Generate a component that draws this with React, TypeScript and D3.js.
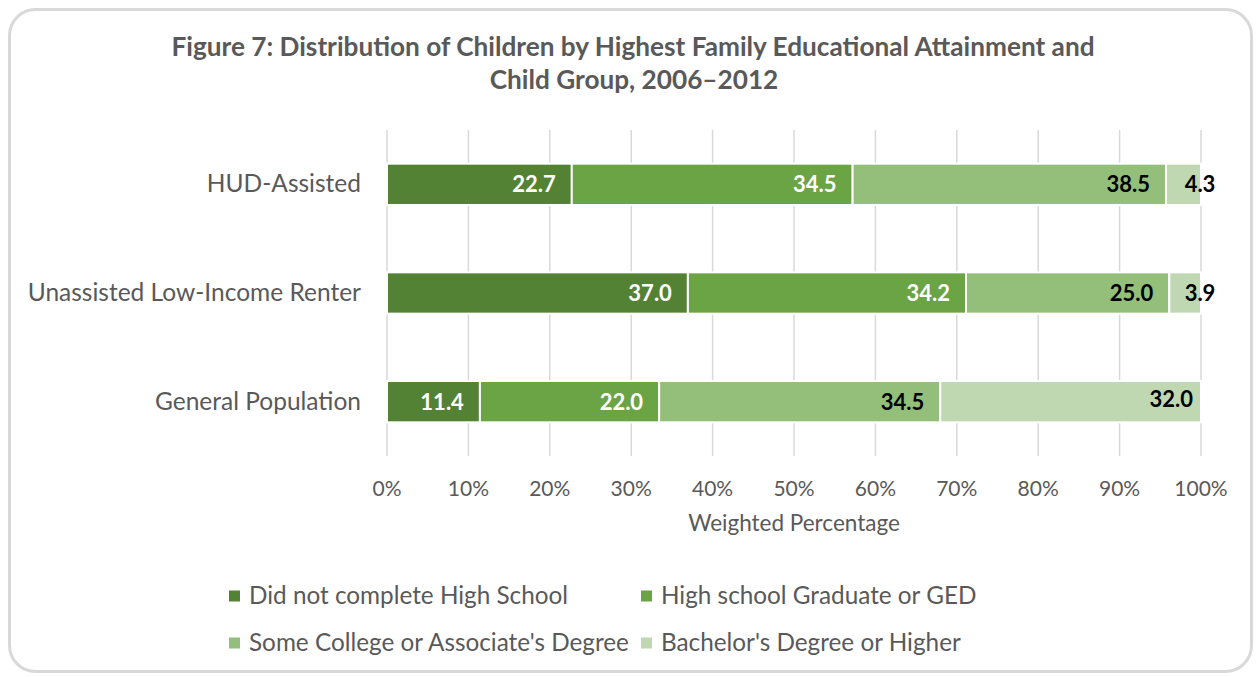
// App.tsx
import React, { useEffect, useRef } from 'react';
import * as d3 from 'd3';

const categories = ['HUD-Assisted', 'Unassisted Low-Income Renter', 'General Population'];
const seriesNames = [
  'Did not complete High School',
  'High school Graduate or GED',
  "Some College or Associate's Degree",
  "Bachelor's Degree or Higher",
];
const didNotComplete = [22.7, 37.0, 11.4];
const highSchoolGrad = [34.5, 34.2, 22.0];
const someCollege = [38.5, 25.0, 34.5];
const bachelorPlus = [4.3, 3.9, 32.0];
const tickValues = [0, 10, 20, 30, 40, 50, 60, 70, 80, 90, 100];

const colors = ['#548235', '#6aa444', '#93bf7b', '#bfd8b2'];
const labelColors = ['#ffffff', '#ffffff', '#000000', '#000000'];
const FONT = 'Lato, "Open Sans", sans-serif';
const GREY = '#595959';

const W = 1258;
const H = 677;

const App = () => {
  const svgRef = useRef<SVGSVGElement>(null);

  useEffect(() => {
    const svg = d3.select(svgRef.current);
    svg.selectAll('*').remove();
    svg.attr('width', W).attr('height', H);

    // outer rounded frame
    svg
      .append('rect')
      .attr('x', 9.5)
      .attr('y', 9.5)
      .attr('width', 1242)
      .attr('height', 662)
      .attr('rx', 26)
      .attr('fill', '#fff')
      .attr('stroke', '#d9d9d9')
      .attr('stroke-width', 3);

    // title
    const title = svg
      .append('text')
      .attr('text-anchor', 'middle')
      .attr('font-family', FONT)
      .attr('font-weight', 'bold')
      .attr('font-size', 26.2)
      .attr('fill', GREY);
    title
      .append('tspan')
      .attr('x', 633)
      .attr('y', 56)
      .text('Figure 7: Distribution of Children by Highest Family Educational Attainment and');
    title.append('tspan').attr('x', 634).attr('y', 89).text('Child Group, 2006–2012');

    // rows table
    const rows = categories.map((c, i) => ({
      category: c,
      [seriesNames[0]]: didNotComplete[i],
      [seriesNames[1]]: highSchoolGrad[i],
      [seriesNames[2]]: someCollege[i],
      [seriesNames[3]]: bachelorPlus[i],
    }));

    const stack = d3.stack().keys(seriesNames).offset(d3.stackOffsetExpand);
    const stacked = stack(rows as any);

    const x = d3.scaleLinear().domain([0, 1]).range([387, 1201]);
    const y = d3
      .scaleBand()
      .domain(categories)
      .range([130, 456])
      .paddingInner(0.62)
      .paddingOuter(0.31);

    // gridlines
    svg
      .append('g')
      .selectAll('line')
      .data(tickValues)
      .enter()
      .append('line')
      .attr('x1', (d) => x(d / 100))
      .attr('x2', (d) => x(d / 100))
      .attr('y1', 130)
      .attr('y2', 456)
      .attr('stroke', '#d9d9d9')
      .attr('stroke-width', 1.5);

    // bars
    const layer = svg
      .append('g')
      .selectAll('g')
      .data(stacked)
      .enter()
      .append('g')
      .attr('fill', (d, i) => colors[i]);

    layer
      .selectAll('rect')
      .data((d) => d)
      .enter()
      .append('rect')
      .attr('x', (d) => x(d[0]))
      .attr('y', (d: any) => y(d.data.category))
      .attr('width', (d) => x(d[1]) - x(d[0]))
      .attr('height', y.bandwidth())
      .attr('stroke', '#fff')
      .attr('stroke-width', 2);

    // data labels (inside end)
    const seriesValues = [didNotComplete, highSchoolGrad, someCollege, bachelorPlus];
    stacked.forEach((s, si) => {
      s.forEach((d: any, ci) => {
        const value = seriesValues[si][ci];
        const segW = x(d[1]) - x(d[0]);
        const cy = (y(d.data.category) as number) + y.bandwidth() / 2;
        const small = segW < 50;
        const moved = si === 3 && !small;
        svg
          .append('text')
          .attr('x', small ? x(d[1]) - 1 : x(d[1]) - (moved ? 8 : 16))
          .attr('y', cy + 8 - (moved ? 3 : 0))
          .attr('text-anchor', small ? 'middle' : 'end')
          .attr('font-family', FONT)
          .attr('font-weight', 'bold')
          .attr('font-size', 22)
          .attr('fill', labelColors[si])
          .text(value.toFixed(1));
      });
    });

    // category labels
    svg
      .append('g')
      .selectAll('text')
      .data(categories)
      .enter()
      .append('text')
      .attr('x', 361)
      .attr('y', (d) => (y(d) as number) + y.bandwidth() / 2 + 8)
      .attr('text-anchor', 'end')
      .attr('font-family', FONT)
      .attr('font-size', 24.5)
      .attr('fill', GREY)
      .text((d) => d);

    // x tick labels
    svg
      .append('g')
      .selectAll('text')
      .data(tickValues)
      .enter()
      .append('text')
      .attr('x', (d) => x(d / 100))
      .attr('y', 496)
      .attr('text-anchor', 'middle')
      .attr('font-family', FONT)
      .attr('font-size', 21)
      .attr('fill', GREY)
      .text((d) => `${d}%`);

    svg
      .append('text')
      .attr('x', 794)
      .attr('y', 531)
      .attr('text-anchor', 'middle')
      .attr('font-family', FONT)
      .attr('font-size', 22.5)
      .attr('fill', GREY)
      .text('Weighted Percentage');

    // legend, 2 columns x 2 rows
    const legendX = [229, 641];
    const legendY = [596, 643];
    const item = svg
      .append('g')
      .selectAll('g')
      .data(seriesNames)
      .enter()
      .append('g')
      .attr('transform', (d, i) => `translate(${legendX[i % 2]},${legendY[Math.floor(i / 2)]})`);
    item
      .append('rect')
      .attr('x', 0)
      .attr('y', -5.5)
      .attr('width', 11)
      .attr('height', 11)
      .attr('fill', (d, i) => colors[i]);
    item
      .append('text')
      .attr('x', 20)
      .attr('y', 8)
      .attr('font-family', FONT)
      .attr('font-size', 24.3)
      .attr('fill', GREY)
      .text((d) => d);
  }, []);

  return (
    <div style={{ position: 'absolute', left: 0, top: 0, background: '#fff' }}>
      <svg ref={svgRef}></svg>
    </div>
  );
};

export default App;
